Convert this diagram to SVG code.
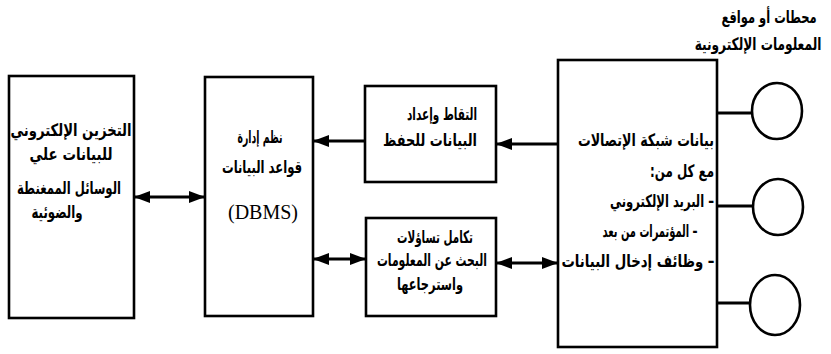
<svg xmlns="http://www.w3.org/2000/svg" width="831" height="354" viewBox="0 0 831 354">
<defs>
<style>
.box{fill:#fff;stroke:#000;stroke-width:2.6}
.ar{font-family:"DejaVu Sans",sans-serif;font-weight:bold;font-size:17px;fill:#000;text-anchor:middle;direction:rtl}
.en{font-family:"Liberation Serif",serif;font-size:20px;fill:#000;text-anchor:middle}
.ln{stroke:#000;stroke-width:3;fill:none}
.ci{fill:#fff;stroke:#000;stroke-width:2.6}
</style>
<marker id="ah" viewBox="0 0 16 12" refX="16" refY="6" markerWidth="16" markerHeight="12" markerUnits="userSpaceOnUse" orient="auto-start-reverse">
<path d="M0,0 L16,6 L0,12 Z" fill="#000"/>
</marker>
</defs>
<rect width="831" height="354" fill="#fff"/>

<g id="title">
<text class="ar" transform="translate(769,23) scale(0.7,1)" x="0" y="0" textLength="136" lengthAdjust="spacingAndGlyphs">محطات أو مواقع</text>
<text class="ar" transform="translate(758,50) scale(0.75,1)" x="0" y="0" textLength="169" lengthAdjust="spacingAndGlyphs">المعلومات الإلكترونية</text>
</g>

<g id="connectors">
<line class="ln" x1="134" y1="197" x2="205" y2="197" marker-start="url(#ah)" marker-end="url(#ah)"/>
<line class="ln" x1="365" y1="141" x2="313" y2="141" marker-end="url(#ah)"/>
<line class="ln" x1="558" y1="144" x2="496" y2="144" marker-end="url(#ah)"/>
<line class="ln" x1="313" y1="259" x2="366" y2="259" marker-start="url(#ah)" marker-end="url(#ah)"/>
<line class="ln" x1="496" y1="263" x2="558" y2="263" marker-start="url(#ah)" marker-end="url(#ah)"/>
<line class="ln" x1="717" y1="113" x2="753" y2="113"/>
<line class="ln" x1="717" y1="206" x2="753" y2="206"/>
<line class="ln" x1="717" y1="303" x2="750" y2="303"/>
</g>

<g id="storage">
<rect class="box" x="9" y="76" width="125" height="242"/>
<text class="ar" x="71" y="136" textLength="121" lengthAdjust="spacingAndGlyphs">التخزين الإلكتروني</text>
<text class="ar" x="71" y="160" textLength="83" lengthAdjust="spacingAndGlyphs">للبيانات علي</text>
<text class="ar" x="69" y="194" textLength="104" lengthAdjust="spacingAndGlyphs">الوسائل الممغنطة</text>
<text class="ar" x="57" y="218" textLength="51" lengthAdjust="spacingAndGlyphs">والضوئية</text>
</g>

<g id="dbms">
<rect class="box" x="205" y="77" width="108" height="239"/>
<text class="ar" x="260" y="143" textLength="45" lengthAdjust="spacingAndGlyphs">نظم إدارة</text>
<text class="ar" x="262" y="173" textLength="80" lengthAdjust="spacingAndGlyphs">قواعد البيانات</text>
<text class="en" x="263" y="219">(DBMS)</text>
</g>

<g id="capture">
<rect class="box" x="365" y="86" width="131" height="96"/>
<text class="ar" x="442" y="120" textLength="70" lengthAdjust="spacingAndGlyphs">التقاط وإعداد</text>
<text class="ar" x="430" y="146" textLength="94" lengthAdjust="spacingAndGlyphs">البيانات للحفظ</text>
</g>

<g id="retrieval">
<rect class="box" x="366" y="218" width="130" height="98"/>
<text class="ar" x="435" y="243" textLength="76" lengthAdjust="spacingAndGlyphs">تكامل تساؤلات</text>
<text class="ar" x="432" y="266" textLength="110" lengthAdjust="spacingAndGlyphs">البحث عن المعلومات</text>
<text class="ar" x="430" y="290" textLength="66" lengthAdjust="spacingAndGlyphs">واسترجاعها</text>
</g>

<g id="network">
<rect class="box" x="558" y="60" width="159" height="287"/>
<text class="ar" x="646" y="146" textLength="136" lengthAdjust="spacingAndGlyphs">بيانات شبكة الإتصالات</text>
<text class="ar" x="682" y="177" textLength="64" lengthAdjust="spacingAndGlyphs">مع كل من:</text>
<text class="ar" x="662" y="207" textLength="104" lengthAdjust="spacingAndGlyphs">– البريد الإلكتروني</text>
<text class="ar" x="650" y="237" textLength="95" lengthAdjust="spacingAndGlyphs">– المؤتمرات من بعد</text>
<text class="ar" x="638" y="267" textLength="153" lengthAdjust="spacingAndGlyphs">– وظائف إدخال البيانات</text>
</g>

<g id="site1"><ellipse class="ci" cx="777" cy="111" rx="25" ry="28"/></g>
<g id="site2"><ellipse class="ci" cx="778" cy="207" rx="25" ry="28"/></g>
<g id="site3"><ellipse class="ci" cx="775" cy="305" rx="25" ry="30"/></g>
</svg>
